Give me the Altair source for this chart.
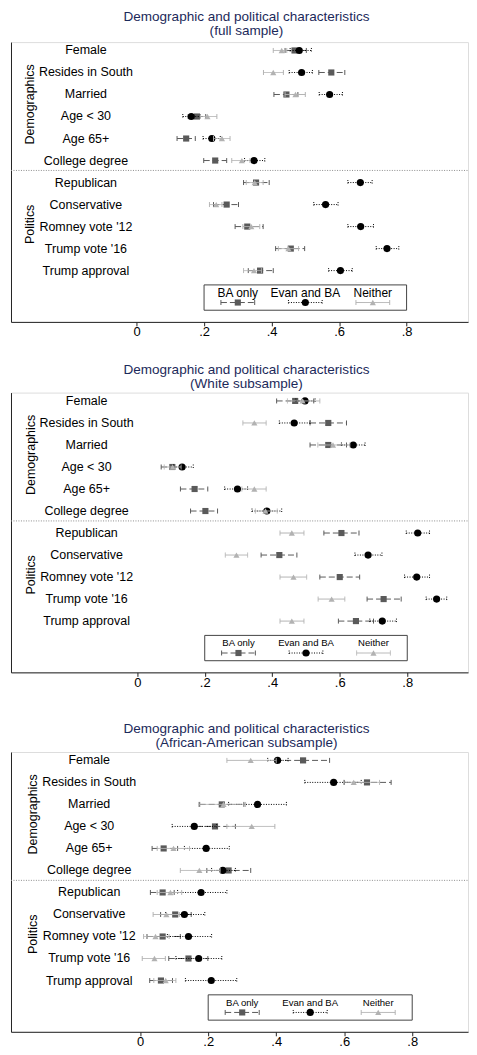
import altair as alt
import pandas as pd

FONT = "Liberation Sans"

ROWS = ["Female", "Resides in South", "Married", "Age < 30", "Age 65+", "College degree",
        "Republican", "Conservative", "Romney vote '12", "Trump vote '16", "Trump approval"]
GROUPS = ["Demographics", "Politics"]
SERIES = ["BA only", "Evan and BA", "Neither"]
X_TICKS = [0, 0.2, 0.4, 0.6, 0.8, 1.0]

TITLE_MAIN = "Demographic and political characteristics"
SUBTITLES = ["(full sample)", "(White subsample)", "(African-American subsample)"]

# legend key values (drawn inside the plot region)
LEGEND_EST = [0.30, 0.50, 0.70]
LEGEND_LO = [0.25, 0.45, 0.65]
LEGEND_HI = [0.35, 0.55, 0.75]

# ---- Full sample ----
FULL_BA_EST = [0.468, 0.577, 0.444, 0.179, 0.147, 0.233, 0.354, 0.267, 0.328, 0.457, 0.366]
FULL_BA_LO = [0.440, 0.540, 0.407, 0.153, 0.120, 0.199, 0.317, 0.228, 0.292, 0.412, 0.331]
FULL_BA_HI = [0.503, 0.617, 0.478, 0.205, 0.174, 0.267, 0.393, 0.302, 0.375, 0.498, 0.405]
FULL_EV_EST = [0.482, 0.489, 0.572, 0.162, 0.223, 0.348, 0.663, 0.560, 0.664, 0.742, 0.604]
FULL_EV_LO = [0.455, 0.452, 0.541, 0.137, 0.197, 0.320, 0.626, 0.525, 0.626, 0.710, 0.569]
FULL_EV_HI = [0.518, 0.521, 0.610, 0.189, 0.248, 0.380, 0.698, 0.597, 0.702, 0.777, 0.639]
FULL_NE_EST = [0.430, 0.405, 0.471, 0.210, 0.253, 0.312, 0.350, 0.236, 0.340, 0.450, 0.348]
FULL_NE_LO = [0.405, 0.376, 0.440, 0.189, 0.228, 0.282, 0.325, 0.216, 0.315, 0.420, 0.317]
FULL_NE_HI = [0.445, 0.435, 0.500, 0.238, 0.277, 0.336, 0.375, 0.253, 0.365, 0.480, 0.370]

# ---- White subsample ----
WH_BA_EST = [0.468, 0.566, 0.566, 0.104, 0.170, 0.202, 0.605, 0.421, 0.600, 0.730, 0.648]
WH_BA_LO = [0.413, 0.512, 0.512, 0.071, 0.128, 0.158, 0.553, 0.367, 0.541, 0.681, 0.596]
WH_BA_HI = [0.523, 0.620, 0.620, 0.137, 0.209, 0.238, 0.657, 0.473, 0.659, 0.782, 0.700]
WH_EV_EST = [0.497, 0.465, 0.640, 0.133, 0.297, 0.384, 0.831, 0.684, 0.828, 0.887, 0.726]
WH_EV_LO = [0.470, 0.421, 0.605, 0.107, 0.259, 0.340, 0.797, 0.645, 0.792, 0.856, 0.689]
WH_EV_HI = [0.527, 0.512, 0.675, 0.166, 0.327, 0.428, 0.866, 0.725, 0.866, 0.917, 0.768]
WH_NE_EST = [0.490, 0.347, 0.580, 0.105, 0.347, 0.380, 0.458, 0.294, 0.463, 0.576, 0.458]
WH_NE_LO = [0.445, 0.313, 0.535, 0.080, 0.310, 0.350, 0.423, 0.261, 0.423, 0.536, 0.423]
WH_NE_HI = [0.541, 0.382, 0.630, 0.130, 0.382, 0.415, 0.494, 0.327, 0.502, 0.615, 0.494]

# ---- African-American subsample ----
AA_BA_EST = [0.479, 0.667, 0.240, 0.220, 0.069, 0.260, 0.066, 0.103, 0.066, 0.142, 0.061]
AA_BA_LO = [0.400, 0.600, 0.175, 0.165, 0.035, 0.196, 0.030, 0.060, 0.020, 0.084, 0.028]
AA_BA_HI = [0.557, 0.738, 0.305, 0.280, 0.110, 0.325, 0.100, 0.150, 0.118, 0.199, 0.095]
AA_EV_EST = [0.404, 0.569, 0.345, 0.159, 0.194, 0.243, 0.179, 0.130, 0.142, 0.172, 0.209]
AA_EV_LO = [0.375, 0.484, 0.260, 0.094, 0.130, 0.210, 0.110, 0.075, 0.080, 0.105, 0.133]
AA_EV_HI = [0.435, 0.650, 0.430, 0.225, 0.262, 0.280, 0.255, 0.190, 0.210, 0.240, 0.284]
AA_NE_EST = [0.325, 0.628, 0.245, 0.328, 0.098, 0.174, 0.089, 0.077, 0.045, 0.042, 0.075]
AA_NE_LO = [0.255, 0.598, 0.172, 0.255, 0.050, 0.118, 0.050, 0.038, 0.010, 0.006, 0.040]
AA_NE_HI = [0.400, 0.704, 0.310, 0.396, 0.145, 0.235, 0.122, 0.115, 0.085, 0.074, 0.105]

W, H = 459, 281
Y_DOMAIN = [0.62, 13.33]

STYLE = {
    "BA only": dict(color="#5a5a5a", dash=[6, 3], shape="square", size=38),
    "Evan and BA": dict(color="#000000", dash=[1, 1.5], shape="circle", size=52),
    "Neither": dict(color="#b2b2b2", dash=[1, 0], shape="triangle-up", size=38),
}

LABEL_EXPR = ("datum.value == 0 ? '0' : (datum.value == 1 ? '1' : "
              "replace(format(datum.value, '.1f'), '0.', '.'))")


def panel(subtitle, series_data, xdom, legend_fs, line_h, t_offset):
    records = []
    for s, (est, lo, hi) in zip(SERIES, series_data):
        for i in range(len(ROWS)):
            records.append(dict(series=s, pos=i + 1, est=est[i], lo=lo[i], hi=hi[i]))
    for j, s in enumerate(SERIES):
        records.append(dict(series=s, pos=12.45, est=LEGEND_EST[j], lo=LEGEND_LO[j], hi=LEGEND_HI[j]))
    df = pd.DataFrame(records)

    ticks = [t for t in X_TICKS if xdom[0] <= t <= xdom[1]]
    xs = alt.Scale(domain=xdom, nice=False, zero=False)
    ys = alt.Scale(domain=Y_DOMAIN, reverse=True, nice=False, zero=False)
    xax = alt.Axis(values=ticks, labelExpr=LABEL_EXPR, grid=False, tickSize=4,
                   labelPadding=0, domainColor="#222222", tickColor="#222222",
                   labelFontSize=13, labelColor="#000000", labelFont=FONT, title=None,
                   labelFlush=False)
    yax = alt.Axis(labels=False, ticks=False, grid=False, domain=True,
                   domainColor="#222222", title=None)

    def X(f):
        return alt.X(f, scale=xs, axis=xax)

    def Y(f):
        return alt.Y(f, scale=ys, axis=yax)

    layers = []

    divider = alt.Chart(pd.DataFrame({"pos": [6.45]})).mark_rule(
        color="#8c8c8c", strokeDash=[1, 1.5], strokeWidth=1
    ).encode(y=Y("pos:Q"), x=alt.value(0), x2=alt.value(W))
    layers.append(divider)

    row_df = pd.DataFrame({"label": ROWS, "pos": list(range(1, len(ROWS) + 1)), "x": [-0.15] * len(ROWS)})
    row_text = alt.Chart(row_df).mark_text(
        font=FONT, fontSize=12.5, align="center", baseline="middle", color="#000000"
    ).encode(x=X("x:Q"), y=Y("pos:Q"), text="label:N")
    layers.append(row_text)

    grp_df = pd.DataFrame({"label": GROUPS, "pos": [3.45, 8.9], "x": [-0.316, -0.316]})
    grp_text = alt.Chart(grp_df).mark_text(
        font=FONT, fontSize=12.5, align="center", baseline="middle", angle=270, color="#000000"
    ).encode(x=X("x:Q"), y=Y("pos:Q"), text="label:N")
    layers.append(grp_text)

    box = alt.Chart(pd.DataFrame({"x": [0.2], "x2": [0.8], "y": [11.65], "y2": [12.8]})).mark_rect(
        filled=False, color="#444444", strokeWidth=1
    ).encode(x=X("x:Q"), x2="x2:Q", y=Y("y:Q"), y2="y2:Q")
    layers.append(box)

    leg_df = pd.DataFrame({"label": SERIES, "x": LEGEND_EST, "pos": [12.0] * 3})
    leg_text = alt.Chart(leg_df).mark_text(
        font=FONT, fontSize=legend_fs, align="center", baseline="middle", color="#000000"
    ).encode(x=X("x:Q"), y=Y("pos:Q"), text="label:N")
    layers.append(leg_text)

    base = alt.Chart(df)
    for s in SERIES:
        st = STYLE[s]
        sub = base.transform_filter(alt.datum.series == s)
        rule = sub.mark_rule(color=st["color"], strokeDash=st["dash"], strokeWidth=1).encode(
            x=X("lo:Q"), x2="hi:Q", y=Y("pos:Q"))
        cap_lo = sub.mark_rule(color=st["color"], strokeDash=st["dash"], strokeWidth=1,
                               yOffset=-2.5, y2Offset=2.5).encode(
            x=X("lo:Q"), y=Y("pos:Q"), y2="pos:Q")
        cap_hi = sub.mark_rule(color=st["color"], strokeDash=st["dash"], strokeWidth=1,
                               yOffset=-2.5, y2Offset=2.5).encode(
            x=X("hi:Q"), y=Y("pos:Q"), y2="pos:Q")
        pt = sub.mark_point(shape=st["shape"], filled=True, size=st["size"],
                            color=st["color"], opacity=1).encode(
            x=X("est:Q"), y=Y("pos:Q"))
        layers += [rule, cap_lo, cap_hi, pt]

    return alt.layer(*layers).properties(
        width=W, height=H,
        title=alt.TitleParams(text=[TITLE_MAIN, subtitle], font=FONT, fontSize=13.6,
                              fontWeight="normal", color="#1c2a5a", lineHeight=line_h,
                              offset=t_offset, anchor="middle", frame="group", dx=7),
    )


p1 = panel(SUBTITLES[0], [(FULL_BA_EST, FULL_BA_LO, FULL_BA_HI),
                          (FULL_EV_EST, FULL_EV_LO, FULL_EV_HI),
                          (FULL_NE_EST, FULL_NE_LO, FULL_NE_HI)],
           [-0.372, -0.372 + W / 339], 12, 13.8, 4.3)
p2 = panel(SUBTITLES[1], [(WH_BA_EST, WH_BA_LO, WH_BA_HI),
                          (WH_EV_EST, WH_EV_LO, WH_EV_HI),
                          (WH_NE_EST, WH_NE_LO, WH_NE_HI)],
           [-0.374, -0.374 + W / 339], 9.6, 14, 2.5)
p3 = panel(SUBTITLES[2], [(AA_BA_EST, AA_BA_LO, AA_BA_HI),
                          (AA_EV_EST, AA_EV_LO, AA_EV_HI),
                          (AA_NE_EST, AA_NE_LO, AA_NE_HI)],
           [-0.38, -0.38 + W / 341.5], 9.6, 14, 2.5)

top = alt.vconcat(p1, p2, spacing=22)
chart = alt.vconcat(top, p3, spacing=31).properties(
    padding={"left": 2, "top": -1, "right": 0, "bottom": -4}
).configure_view(strokeWidth=0).configure(background="white")

chart.save("out.html", embed_options={"renderer": "svg", "actions": False})
